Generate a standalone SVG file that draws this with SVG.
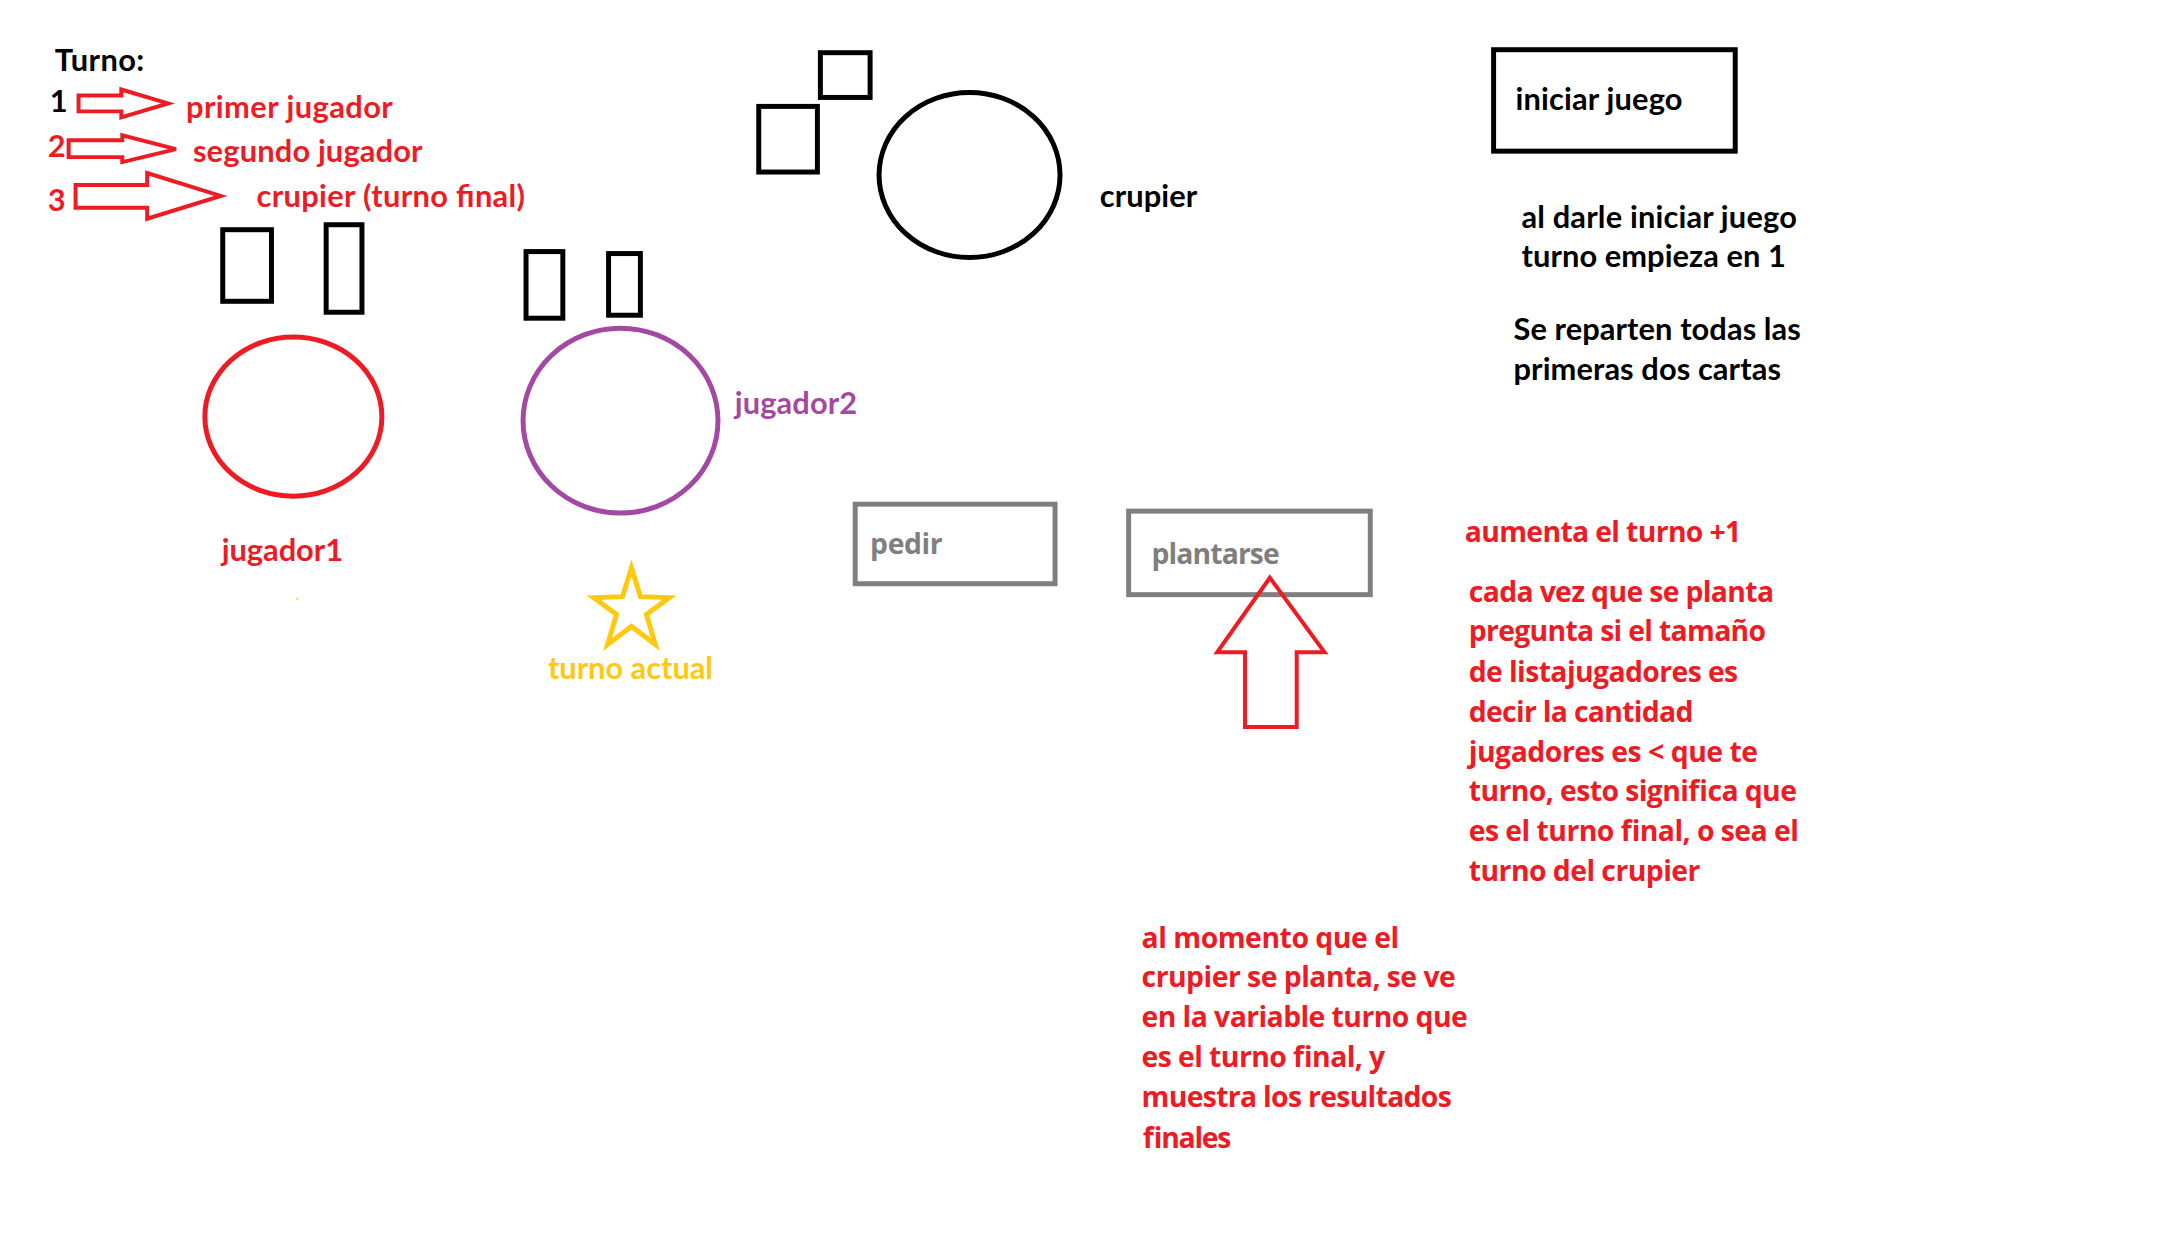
<svg xmlns="http://www.w3.org/2000/svg" width="2160" height="1242" viewBox="0 0 2160 1242">
<style>
.cal{font-family:Lato,"Liberation Sans",sans-serif;font-weight:700;font-size:31px}
.seg{font-family:"Open Sans","Noto Sans",sans-serif;font-weight:700;font-size:28.5px}
.blk{fill:#000}
.red{fill:#ED1C24}
.pur{fill:#A349A4}
.yel{fill:#FFC90E}
.gry{fill:#7F7F7F}
.card{fill:none;stroke:#000;stroke-width:5}
.btn{fill:none;stroke:#7F7F7F;stroke-width:5}
.arr{fill:none;stroke:#ED1C24;stroke-width:4;stroke-linejoin:miter}
</style>
<rect width="2160" height="1242" fill="#fff"/>
<g transform="scale(0.9944)">
<g id="legend">
<text class="cal blk" x="55" y="71" textLength="90">Turno:</text>
<text class="cal blk" x="50" y="113">1</text>
<text class="cal red" x="187" y="119" textLength="208">primer jugador</text>
<text class="cal red" x="48" y="158">2</text>
<text class="cal red" x="194" y="163" textLength="231">segundo jugador</text>
<text class="cal red" x="48" y="212">3</text>
<text class="cal red" x="258" y="208" textLength="270">crupier (turno final)</text>
</g>

<g id="jugador1">
<rect class="card" x="224" y="231" width="49" height="72"/>
<rect class="card" x="328" y="226" width="36" height="88"/>
<ellipse cx="295" cy="419" rx="89" ry="80" fill="none" stroke="#ED1C24" stroke-width="5"/>
<text class="cal red" x="223" y="564" textLength="122">jugador1</text>
<rect x="298" y="601" width="2" height="2" fill="#FFC90E"/>
</g>

<g id="jugador2">
<rect class="card" x="529" y="253" width="37" height="67"/>
<rect class="card" x="612" y="255" width="32" height="62"/>
<ellipse cx="624" cy="423" rx="98" ry="93" fill="none" stroke="#A349A4" stroke-width="5"/>
<text class="cal pur" x="739" y="416" textLength="123">jugador2</text>
</g>

<g id="turno-actual">
<polygon points="635,571 644,600 673,601 650,618 659,648 635,630 611,648 620,618 597,601 626,600" fill="none" stroke="#FFC90E" stroke-width="5" stroke-linejoin="miter"/>
<text class="cal yel" x="551" y="683" textLength="166">turno actual</text>
</g>

<g id="crupier">
<rect class="card" x="763" y="107" width="59" height="66"/>
<rect class="card" x="825" y="53" width="50" height="45"/>
<ellipse cx="975" cy="176" rx="91" ry="83" fill="none" stroke="#000" stroke-width="5"/>
<text class="cal blk" x="1106" y="208" textLength="98">crupier</text>
</g>

<g id="iniciar-juego">
<rect x="1502" y="50" width="243" height="102" fill="none" stroke="#000" stroke-width="5"/>
<text class="cal blk" x="1524" y="111" textLength="168">iniciar juego</text>
</g>

<g id="nota-inicio">
<text class="cal blk" x="1530" y="229" textLength="277">al darle iniciar juego</text>
<text class="cal blk" x="1530" y="269" textLength="266">turno empieza en 1</text>
<text class="cal blk" x="1522" y="342" textLength="289">Se reparten todas las</text>
<text class="cal blk" x="1522" y="382" textLength="269">primeras dos cartas</text>
</g>

<g id="pedir">
<rect class="btn" x="860" y="507" width="201" height="80"/>
<text class="seg gry" x="875" y="557" textLength="73">pedir</text>
</g>

<g id="plantarse">
<rect class="btn" x="1135" y="514" width="243" height="84"/>
<text class="seg gry" x="1158" y="567" textLength="129">plantarse</text>
</g>

<g id="nota-plantarse">
<text class="seg red" x="1473" y="545" textLength="278">aumenta el turno +1</text>
<text class="seg red" x="1477" y="605" textLength="307">cada vez que se planta</text>
<text class="seg red" x="1477" y="645" textLength="299">pregunta si el tamaño</text>
<text class="seg red" x="1477" y="686" textLength="271">de listajugadores es</text>
<text class="seg red" x="1477" y="726" textLength="226">decir la cantidad</text>
<text class="seg red" x="1477" y="766" textLength="291">jugadores es &lt; que te</text>
<text class="seg red" x="1477" y="806" textLength="330">turno, esto significa que</text>
<text class="seg red" x="1477" y="846" textLength="332">es el turno final, o sea el</text>
<text class="seg red" x="1477" y="886" textLength="233">turno del crupier</text>
</g>

<g id="nota-final">
<text class="seg red" x="1148" y="953" textLength="259">al momento que el</text>
<text class="seg red" x="1148" y="993" textLength="316">crupier se planta, se ve</text>
<text class="seg red" x="1148" y="1033" textLength="328">en la variable turno que</text>
<text class="seg red" x="1148" y="1073" textLength="245">es el turno final, y</text>
<text class="seg red" x="1148" y="1113" textLength="312">muestra los resultados</text>
<text class="seg red" x="1148" y="1154" textLength="89">finales</text>
</g>

<g id="connectors">
<polygon class="arr" points="79,96 122,96 122,90 169,104 122,118 122,112 79,112"/>
<polygon class="arr" points="69,141 123,141 123,136 177,150 123,163 123,158 69,158"/>
<polygon class="arr" points="76,186 148,186 148,174 222,197 148,220 148,209 76,209"/>
<polygon class="arr" points="1277,581 1332,656 1304,656 1304,731 1252,731 1252,656 1224,656"/>
</g>
</g>
</svg>
